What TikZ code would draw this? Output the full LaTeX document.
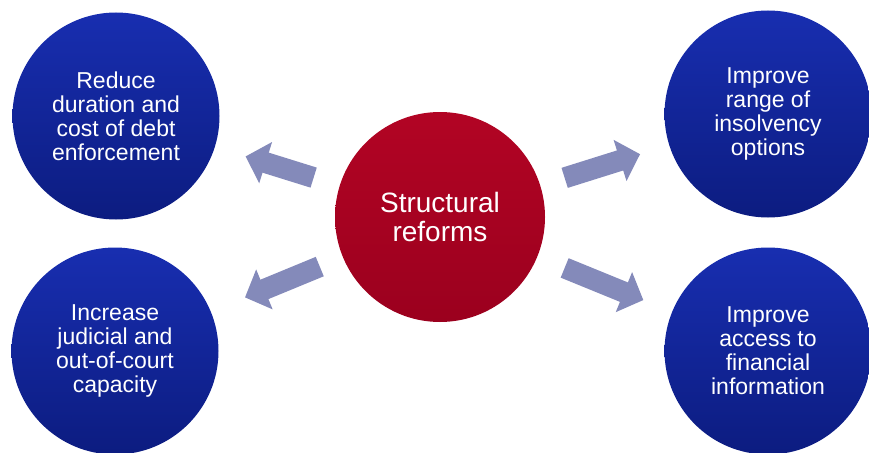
\documentclass[tikz,border=0pt]{standalone}
\usepackage{fontspec}
\setmainfont{Liberation Sans}
\usetikzlibrary{arrows.meta,calc}
\definecolor{bluetop}{RGB}{24,46,176}
\definecolor{bluebot}{RGB}{12,28,128}
\definecolor{redtop}{RGB}{178,4,36}
\definecolor{redbot}{RGB}{155,0,30}
\definecolor{arrowcol}{RGB}{132,138,186}
\begin{document}
\begin{tikzpicture}[x=1pt,y=-1pt,
  goal/.style={circle,inner sep=0pt,minimum size=207pt,align=center,
    top color=bluetop,bottom color=bluebot,text=white,
    font=\fontsize{23}{24}\selectfont},
  hub/.style={circle,inner sep=0pt,minimum size=210pt,align=center,
    top color=redtop,bottom color=redbot,text=white,
    font=\fontsize{28}{29}\selectfont},
  fat/.style={draw=arrowcol,line width=21pt,
    -{Triangle[width=42pt,length=21pt]}}]
\useasboundingbox (0,0) rectangle (869,452);
\node[hub] (c) at (440,217) {Structural\\reforms};
\node[goal] (tl) at (116,116) {Reduce\\duration and\\cost of debt\\enforcement};
\node[goal] (bl) at (115,351) {Increase\\judicial and\\out-of-court\\capacity};
\node[goal] (tr) at (768,114) {Improve\\range of\\insolvency\\options};
\node[goal] (br) at (768,351) {Improve\\access to\\financial\\information};
\draw[fat] ($(c)!0.39!(tl)$) -- ($(c)!0.60!(tl)$);
\draw[fat] ($(c)!0.37!(bl)$) -- ($(c)!0.60!(bl)$);
\draw[fat] ($(c)!0.38!(tr)$) -- ($(c)!0.61!(tr)$);
\draw[fat] ($(c)!0.38!(br)$) -- ($(c)!0.62!(br)$);
\end{tikzpicture}
\end{document}
